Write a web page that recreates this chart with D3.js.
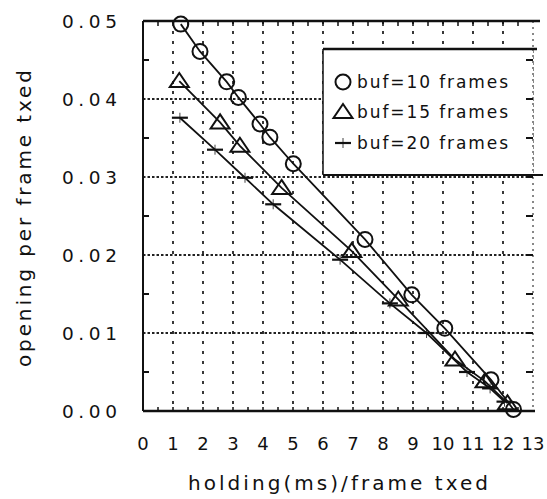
<!DOCTYPE html>
<meta charset="utf-8" />
<script src="https://d3js.org/d3.v7.min.js"></script>
<style>
  body { margin: 0; background: #fff; }
  text { font-family: "DejaVu Sans", "Liberation Sans", sans-serif; fill: #111; }
</style>
<div id="chart"></div>
<script>
  // series
  const buf10X = [1.26, 1.9, 2.79, 3.18, 3.9, 4.23, 5.01, 7.4, 8.96, 10.06, 11.6, 12.35];
  const buf10Y = [0.0496, 0.0461, 0.0422, 0.0402, 0.0368, 0.0351, 0.0317, 0.0220, 0.0149, 0.0106, 0.0040, 0.0002];
  const buf15X = [1.21, 2.57, 3.23, 4.62, 6.96, 8.51, 10.4, 11.4, 12.15];
  const buf15Y = [0.0423, 0.0370, 0.0340, 0.0286, 0.0205, 0.0143, 0.0066, 0.0038, 0.0010];
  const buf20X = [1.23, 2.4, 3.4, 4.34, 6.57, 8.23, 9.45, 10.8, 11.57, 12.05];
  const buf20Y = [0.0376, 0.0335, 0.0299, 0.0265, 0.0194, 0.0138, 0.0100, 0.0050, 0.0029, 0.0012];

  const xTicks = d3.range(0, 14);
  const yTicks = [0, 0.01, 0.02, 0.03, 0.04, 0.05];
  const legendLabels = ["buf=10 frames", "buf=15 frames", "buf=20 frames"];

  const W = 547, H = 499;
  const pLeft = 143, pRight = 533, pTop = 21, pBottom = 411;

  const x = d3.scaleLinear().domain([0, 13]).range([pLeft, pRight]);
  const y = d3.scaleLinear().domain([0, 0.05]).range([pBottom, pTop]);

  const svg = d3.select("#chart").append("svg")
    .attr("width", W).attr("height", H);

  // grid
  svg.append("g").selectAll("line")
    .data(d3.range(1, 13))
    .join("line")
    .attr("x1", d => x(d)).attr("x2", d => x(d))
    .attr("y1", pTop).attr("y2", pBottom)
    .attr("stroke", "#222").attr("stroke-width", 1.8)
    .attr("stroke-dasharray", "3,7");

  svg.append("g").selectAll("line")
    .data([0.01, 0.02, 0.03, 0.04])
    .join("line")
    .attr("x1", pLeft).attr("x2", pRight)
    .attr("y1", d => y(d)).attr("y2", d => y(d))
    .attr("stroke", "#222").attr("stroke-width", 1.8)
    .attr("stroke-dasharray", "2.5,2");

  // frame
  const frame = svg.append("g").attr("stroke", "#111");
  frame.append("line").attr("x1", pLeft).attr("x2", 540).attr("y1", pTop).attr("y2", pTop).attr("stroke-width", 2.5);
  frame.append("line").attr("x1", pLeft).attr("x2", pRight + 2).attr("y1", pBottom).attr("y2", pBottom).attr("stroke-width", 2.5);
  frame.append("line").attr("x1", pLeft).attr("x2", pLeft).attr("y1", pTop).attr("y2", pBottom).attr("stroke-width", 2);
  frame.append("line").attr("x1", pRight).attr("x2", pRight).attr("y1", pTop).attr("y2", pBottom)
    .attr("stroke-width", 1).attr("stroke-dasharray", "2,4");

  // minor ticks
  const halfY = d3.range(0.005, 0.05, 0.01);
  frame.selectAll(".lt").data(halfY).join("line")
    .attr("x1", pLeft).attr("x2", pLeft + 6)
    .attr("y1", d => y(d)).attr("y2", d => y(d)).attr("stroke-width", 2);
  frame.selectAll(".rt").data(d3.range(0.005, 0.05, 0.005)).join("line")
    .attr("x1", pRight - 7).attr("x2", pRight)
    .attr("y1", d => y(d)).attr("y2", d => y(d)).attr("stroke-width", 2);
  const halfX = d3.range(0.5, 13, 0.5);
  frame.selectAll(".bt").data(halfX).join("line")
    .attr("x1", d => x(d)).attr("x2", d => x(d))
    .attr("y1", pBottom).attr("y2", pBottom - 4).attr("stroke-width", 1.5);
  frame.selectAll(".tt").data(halfX).join("line")
    .attr("x1", d => x(d)).attr("x2", d => x(d))
    .attr("y1", pTop).attr("y2", pTop + 5).attr("stroke-width", 1.5);

  // tick labels
  svg.append("g").selectAll("text")
    .data(xTicks).join("text")
    .attr("x", d => x(d)).attr("y", 450)
    .attr("text-anchor", "middle")
    .attr("font-size", 18)
    .text(d => d);

  svg.append("g").selectAll("text")
    .data(yTicks).join("text")
    .attr("x", 117).attr("y", d => y(d) + 7)
    .attr("text-anchor", "end")
    .attr("font-size", 18.5)
    .attr("textLength", 55)
    .attr("lengthAdjust", "spacing")
    .text(d => d.toFixed(2));

  // axis titles
  svg.append("text")
    .attr("x", 188).attr("y", 490)
    .attr("font-size", 20)
    .attr("textLength", 300).attr("lengthAdjust", "spacing")
    .text("holding(ms)/frame txed");

  svg.append("text")
    .attr("transform", "translate(31,367) rotate(-90)")
    .attr("font-size", 20)
    .attr("textLength", 297).attr("lengthAdjust", "spacing")
    .text("opening per frame txed");

  // series
  const series = [
    { xs: buf10X, ys: buf10Y, shape: "circle" },
    { xs: buf15X, ys: buf15Y, shape: "triangle" },
    { xs: buf20X, ys: buf20Y, shape: "plus" },
  ];
  const line = d3.line().x(d => x(d[0])).y(d => y(d[1]));

  function drawMarker(g, shape) {
    if (shape === "circle") {
      g.append("circle").attr("r", 7.5).attr("fill", "none").attr("stroke", "#111").attr("stroke-width", 2);
    } else if (shape === "triangle") {
      g.append("path").attr("d", "M0,-8L9.5,6L-9.5,6Z").attr("fill", "none").attr("stroke", "#111").attr("stroke-width", 2);
    } else {
      g.append("path").attr("d", "M-8,0H8").attr("stroke", "#111").attr("stroke-width", 2.2);
      g.append("path").attr("d", "M0,-5V5").attr("stroke", "#111").attr("stroke-width", 0.8);
    }
  }

  series.forEach(s => {
    const pts = s.xs.map((v, i) => [v, s.ys[i]]);
    svg.append("path").datum(pts)
      .attr("d", line)
      .attr("fill", "none").attr("stroke", "#111").attr("stroke-width", 1.8);
    svg.append("g").selectAll("g")
      .data(pts).join("g")
      .attr("transform", d => "translate(" + x(d[0]) + "," + y(d[1]) + ")")
      .each(function () { drawMarker(d3.select(this), s.shape); });
  });

  // legend
  const lg = svg.append("g");
  lg.append("rect").attr("x", 323).attr("y", 49).attr("width", pRight - 323).attr("height", 126)
    .attr("fill", "#fff");
  lg.append("line").attr("x1", 323).attr("x2", 537).attr("y1", 49).attr("y2", 49).attr("stroke", "#111").attr("stroke-width", 2.5);
  lg.append("line").attr("x1", 323).attr("x2", 543).attr("y1", 175).attr("y2", 175).attr("stroke", "#111").attr("stroke-width", 2.2);
  lg.append("line").attr("x1", 323).attr("x2", 323).attr("y1", 49).attr("y2", 175).attr("stroke", "#111").attr("stroke-width", 1.5);
  lg.append("line").attr("x1", pRight).attr("x2", pRight).attr("y1", 49).attr("y2", 175)
    .attr("stroke", "#111").attr("stroke-width", 1).attr("stroke-dasharray", "2,4");
  lg.selectAll(".rt").data([0.045, 0.04, 0.035]).join("line")
    .attr("x1", pRight - 7).attr("x2", pRight)
    .attr("y1", d => y(d)).attr("y2", d => y(d)).attr("stroke", "#111").attr("stroke-width", 2);

  const rows = [82, 112, 143];
  legendLabels.forEach((t, i) => {
    const g = lg.append("g").attr("transform", "translate(343," + rows[i] + ")");
    drawMarker(g, series[i].shape);
    lg.append("text").attr("x", 357).attr("y", rows[i] + 6)
      .attr("font-size", 17)
      .attr("textLength", 151).attr("lengthAdjust", "spacing")
      .text(t);
  });
</script>
